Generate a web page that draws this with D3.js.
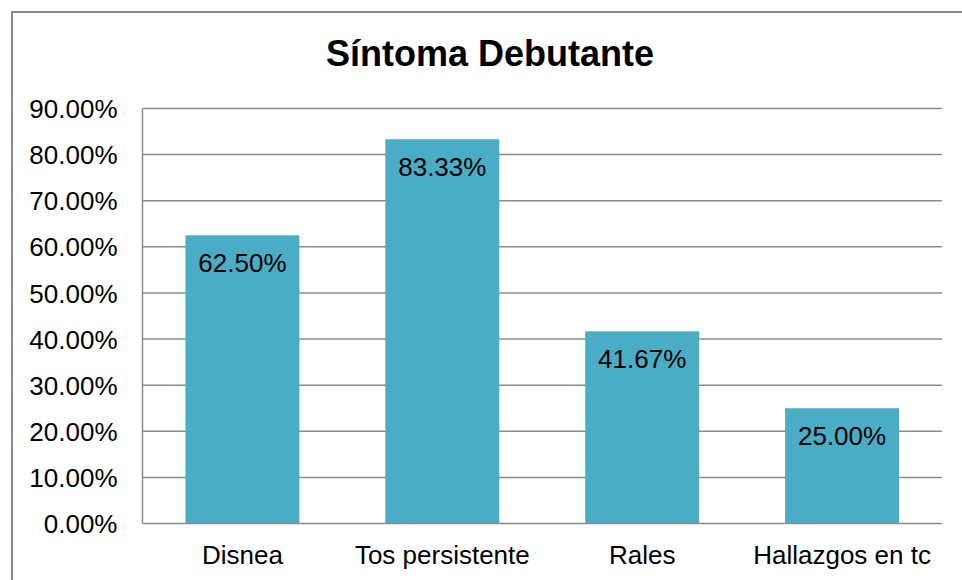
<!DOCTYPE html>
<html>
<head>
<meta charset="utf-8">
<script src="https://cdn.jsdelivr.net/npm/d3@7"></script>
<style>
  html, body { margin: 0; padding: 0; background: #fff; }
  svg { display: block; font-family: "Liberation Sans", Arial, sans-serif; }
</style>
</head>
<body>
<svg id="chart" width="962" height="580"></svg>
<script>
const title = "Síntoma Debutante";
const categories = ["Disnea", "Tos persistente", "Rales", "Hallazgos en tc"];
const values = [0.625, 0.8333, 0.4167, 0.25];
const tickValues = [0, 0.1, 0.2, 0.3, 0.4, 0.5, 0.6, 0.7, 0.8, 0.9];

const svg = d3.select("#chart");
const W = 962, H = 580;
const plot = { left: 142.5, right: 942, top: 108.5, bottom: 523.5 };
const gridColor = "#8c8c8c";
const barColor = "#4BACC6";

svg.append("rect").attr("x", 0).attr("y", 0).attr("width", W).attr("height", H).attr("fill", "#fff");
// outer chart border
svg.append("rect")
  .attr("x", 12).attr("y", 12).attr("width", W + 20).attr("height", H + 20)
  .attr("fill", "none").attr("stroke", gridColor).attr("stroke-width", 2);

svg.append("text")
  .attr("x", 490).attr("y", 66)
  .attr("text-anchor", "middle")
  .attr("font-size", 36).attr("font-weight", "bold")
  .attr("fill", "#000")
  .text(title);

const x = d3.scaleBand().domain(categories).range([plot.left, plot.right]).paddingInner(0.43).paddingOuter(0.215);
const y = d3.scaleLinear().domain([0, 0.9]).range([plot.bottom, plot.top]);

// gridlines
svg.append("g").selectAll("line").data(tickValues.filter(d => d > 0)).join("line")
  .attr("x1", plot.left).attr("x2", plot.right)
  .attr("y1", d => y(d)).attr("y2", d => y(d))
  .attr("stroke", gridColor).attr("stroke-width", 1.5);

// bars
svg.append("g").selectAll("rect").data(categories).join("rect")
  .attr("x", d => x(d)).attr("width", x.bandwidth())
  .attr("y", (d, i) => y(values[i])).attr("height", (d, i) => y(0) - y(values[i]))
  .attr("fill", barColor);

// axes lines
svg.append("line").attr("x1", plot.left).attr("x2", plot.left).attr("y1", plot.top).attr("y2", plot.bottom)
  .attr("stroke", gridColor).attr("stroke-width", 1.5);
svg.append("line").attr("x1", plot.left).attr("x2", plot.right).attr("y1", plot.bottom).attr("y2", plot.bottom)
  .attr("stroke", gridColor).attr("stroke-width", 1.5);

// y tick labels via axis
const fmt = d3.format(".2%");
const yAxis = d3.axisLeft(y).tickValues(tickValues).tickFormat(fmt).tickSize(0).tickPadding(25);
const gy = svg.append("g").attr("transform", `translate(${plot.left},0)`).call(yAxis);
gy.select(".domain").remove();
gy.selectAll("text").attr("font-size", 26).attr("font-family", "'Liberation Sans', Arial, sans-serif").attr("fill", "#000").attr("dy", "0.35em");

// x tick labels via axis
const xAxis = d3.axisBottom(x).tickSize(0).tickPadding(0);
const gx = svg.append("g").attr("transform", `translate(0,${plot.bottom})`).call(xAxis);
gx.select(".domain").remove();
gx.selectAll("text").attr("font-size", 26).attr("font-family", "'Liberation Sans', Arial, sans-serif").attr("fill", "#000").attr("dy", null).attr("y", 40.5);

// data labels
svg.append("g").selectAll("text").data(categories).join("text")
  .attr("x", d => x(d) + x.bandwidth() / 2)
  .attr("y", (d, i) => y(values[i]) + 37)
  .attr("text-anchor", "middle")
  .attr("font-size", 26).attr("fill", "#000")
  .text((d, i) => fmt(values[i]));
</script>
</body>
</html>
